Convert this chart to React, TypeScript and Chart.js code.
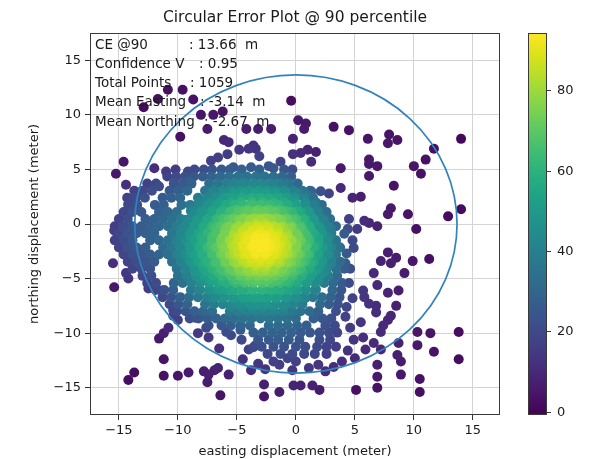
import { useEffect, useRef } from "react";
import { Chart, registerables } from "chart.js";

Chart.register(...registerables);

const FONT = "DejaVu Sans";
const titleText = "Circular Error Plot @ 90 percentile";
const xLabel = "easting displacement (meter)";
const yLabel = "northing displacement (meter)";
const xTicks = [-15, -10, -5, 0, 5, 10, 15];
const yTicks = [-15, -10, -5, 0, 5, 10, 15];
const cbTicks = [0, 20, 40, 60, 80];
const circleRadius = 13.66;
const infoLabels = ["CE @90", "Confidence V", "Total Points", "Mean Easting", "Mean Northing"];
const infoValues = [": 13.66  m", ": 0.95", ": 1059", ": -3.14  m", ": -2.67  m"];

// outer body of the cloud, rows of [northing, eastings]
const blobRows: [number, number[]][] = [
  [5.0, [-8.6, -7.8, -7.1, -6.3, -5.6, -4.6, -3.1, -1.0, -0.3]],
  [4.35, [-10.9, -10.15, -9.4, -8.65, -7.9, -7.15, -6.4, -5.65, -4.9, -4.15, -3.4, -2.65, -1.9, -1.15, -0.4]],
  [3.7, [-12.6, -11.85, -10.35, -9.6, -8.85, -7.35, -6.6, -5.85, -5.1, -4.35, -3.6, -2.85, -2.1, -1.35, -0.6, 0.15]],
  [3.05, [-13.7, -12.95, -12.2, -10.7, -9.95, -9.2, -7.7, -6.95, -6.2, -5.45, -4.7, -3.95, -3.2, -2.45, -1.7, -0.95, -0.2, 0.55, 1.2]],
  [2.4, [-14.3, -13.55, -12.8, -11.3, -10.55, -9.8, -8.3, -7.55, -6.8, -6.05, -5.3, -4.55, -3.8, -3.05, -2.3, -1.55, -0.8, -0.05, 0.7, 1.45]],
  [1.75, [-14.2, -13.45, -11.95, -11.2, -9.7, -8.95, -8.2, -7.45, -6.7, -5.95, -5.2, -4.45, -3.7, -2.95, -2.2, -1.45, -0.7, 0.05, 0.8, 1.55, 2.2]],
  [1.1, [-14.6, -13.85, -13.1, -11.6, -10.85, -10.1, -8.6, -7.85, -7.1, -6.35, -5.6, -4.85, -4.1, -3.35, -2.6, -1.85, -1.1, -0.35, 0.4, 1.15, 1.9, 2.6]],
  [0.45, [-15.0, -14.25, -12.75, -12.0, -11.25, -10.5, -9.75, -9.0, -8.25, -7.5, -6.75, -6.0, -5.25, -4.5, -3.75, -3.0, -2.25, -1.5, -0.75, 0.0, 0.75, 1.5, 2.25, 2.9]],
  [-0.2, [-15.35, -14.6, -13.85, -13.1, -12.35, -11.6, -10.85, -10.1, -9.35, -8.6, -7.85, -7.1, -6.35, -5.6, -4.85, -4.1, -3.35, -2.6, -1.85, -1.1, -0.35, 0.4, 1.15, 1.9, 2.65, 3.4]],
  [-0.85, [-15.0, -14.25, -13.5, -12.75, -12.0, -10.5, -9.75, -9.0, -8.25, -7.5, -6.75, -6.0, -5.25, -4.5, -3.75, -3.0, -2.25, -1.5, -0.75, 0.0, 0.75, 1.5, 2.25, 3.0]],
  [-1.5, [-15.35, -14.6, -13.85, -12.35, -11.6, -10.85, -10.1, -9.35, -8.6, -7.85, -7.1, -6.35, -5.6, -4.85, -4.1, -3.35, -2.6, -1.85, -1.1, -0.35, 0.4, 1.15, 1.9, 2.65, 3.4]],
  [-2.15, [-15.0, -14.25, -13.5, -12.75, -11.25, -10.5, -9.75, -9.0, -8.25, -7.5, -6.75, -6.0, -5.25, -4.5, -3.75, -3.0, -2.25, -1.5, -0.75, 0.0, 0.75, 1.5, 2.25, 3.0, 3.75]],
  [-2.8, [-14.6, -13.85, -13.1, -12.35, -11.6, -10.85, -10.1, -9.35, -8.6, -7.85, -7.1, -6.35, -5.6, -4.85, -4.1, -3.35, -2.6, -1.85, -1.1, -0.35, 0.4, 1.15, 1.9, 2.65, 3.4]],
  [-3.45, [-14.25, -13.5, -12.75, -12.0, -10.5, -9.75, -9.0, -8.25, -7.5, -6.75, -6.0, -5.25, -4.5, -3.75, -3.0, -2.25, -1.5, -0.75, 0.0, 0.75, 1.5, 2.25, 3.0, 3.75]],
  [-4.1, [-13.85, -13.1, -12.35, -10.1, -9.35, -8.6, -7.85, -7.1, -6.35, -5.6, -4.85, -4.1, -3.35, -2.6, -1.85, -1.1, -0.35, 0.4, 1.15, 1.9, 2.65, 3.4, 4.1]],
  [-4.75, [-13.0, -12.25, -10.0, -9.25, -8.5, -7.75, -7.0, -6.25, -5.5, -4.75, -4.0, -3.25, -2.5, -1.75, -1.0, -0.25, 0.5, 1.25, 2.0, 2.75, 3.5]],
  [-5.4, [-12.6, -11.85, -10.35, -9.6, -8.85, -8.1, -7.35, -6.6, -5.85, -5.1, -4.35, -3.6, -2.85, -2.1, -1.35, -0.6, 0.15, 0.9, 1.65, 2.4, 3.15, 3.9]],
  [-6.05, [-11.9, -11.15, -10.4, -8.9, -8.15, -7.4, -6.65, -5.9, -5.15, -4.4, -3.65, -2.9, -2.15, -1.4, -0.65, 0.1, 0.85, 1.6, 3.1, 3.85]],
  [-6.7, [-11.3, -10.55, -9.8, -9.05, -8.3, -7.55, -6.8, -6.05, -5.3, -4.55, -3.8, -3.05, -2.3, -1.55, -0.8, -0.05, 0.7, 1.45, 2.2, 2.95, 3.7]],
  [-7.35, [-10.7, -9.95, -9.2, -7.7, -6.95, -6.2, -5.45, -4.7, -3.95, -3.2, -2.45, -1.7, -0.95, -0.2, 0.55, 2.05, 2.8, 3.55]],
  [-8.0, [-10.1, -9.35, -8.6, -7.85, -7.1, -5.6, -4.85, -4.1, -3.35, -2.6, -1.85, -1.1, -0.35, 0.4, 1.15, 1.9, 3.4]],
  [-8.65, [-9.0, -8.25, -7.5, -6.75, -6.0, -5.25, -4.5, -3.75, -3.0, -2.25, -1.5, -0.75, 0.0, 1.5, 2.25, 3.0]],
  [-9.3, [-7.4, -6.3, -5.5, -4.7, -3.9, -2.3, -1.5, -0.7, 0.1, 0.9, 2.5, 3.3]],
  [-9.95, [-3.6, -2.8, -2.0, -1.2, -0.4, 0.4, 1.2, 2.0, 2.8, 3.5]],
  [-10.6, [-3.2, -2.3, -1.5, -0.6, 0.3, 2.0, 2.9]],
  [-11.25, [-2.9, -1.9, -1.0, 0.0, 0.8, 1.8, 2.6, 3.4]],
  [-11.9, [-2.4, -1.3, -0.3, 0.7, 1.6, 2.6]],
];

// middle part of the cloud
const midRows: [number, number[]][] = [
  [3.6, [-5.5, -4.6, -3.7, -2.8, -1.9, -1.0]],
  [2.8, [-7.1, -6.2, -5.3, -4.4, -3.5, -2.6, -1.7, -0.8, 0.1, 0.8]],
  [2.0, [-8.2, -7.3, -6.4, -5.5, -4.6, -3.7, -2.8, -1.9, -1.0, -0.1, 0.8, 1.7]],
  [1.2, [-8.9, -8.0, -7.1, -6.2, -5.3, -4.4, -3.5, -2.6, -1.7, -0.8, 0.1, 1.0, 1.9]],
  [0.4, [-9.3, -8.4, -7.5, -6.6, -5.7, -4.8, -3.9, -3.0, -2.1, -1.2, -0.3, 0.6, 1.5, 2.4]],
  [-0.4, [-9.6, -8.7, -7.8, -6.9, -6.0, -5.1, -4.2, -3.3, -2.4, -1.5, -0.6, 0.3, 1.2, 2.1, 3.0]],
  [-1.2, [-9.8, -8.9, -8.0, -7.1, -6.2, -5.3, -4.4, -3.5, -2.6, -1.7, -0.8, 0.1, 1.0, 1.9, 2.8]],
  [-2.0, [-9.9, -9.0, -8.1, -7.2, -6.3, -5.4, -4.5, -3.6, -2.7, -1.8, -0.9, 0.0, 0.9, 1.8, 2.7, 3.5]],
  [-2.8, [-9.8, -8.9, -8.0, -7.1, -6.2, -5.3, -4.4, -3.5, -2.6, -1.7, -0.8, 0.1, 1.0, 1.9, 2.8]],
  [-3.6, [-9.6, -8.7, -7.8, -6.9, -6.0, -5.1, -4.2, -3.3, -2.4, -1.5, -0.6, 0.3, 1.2, 2.1, 3.0]],
  [-4.4, [-9.3, -8.4, -7.5, -6.6, -5.7, -4.8, -3.9, -3.0, -2.1, -1.2, -0.3, 0.6, 1.5, 2.4]],
  [-5.2, [-8.9, -8.0, -7.1, -6.2, -5.3, -4.4, -3.5, -2.6, -1.7, -0.8, 0.1, 1.0, 1.9]],
  [-6.0, [-8.2, -7.3, -6.4, -5.5, -4.6, -3.7, -2.8, -1.9, -1.0, -0.1, 0.8, 1.7]],
  [-6.8, [-7.1, -6.2, -5.3, -4.4, -3.5, -2.6, -1.7, -0.8, 0.1, 0.8]],
  [-7.6, [-5.5, -4.6, -3.7, -2.8, -1.9, -1.0]],
];

// inner part of the cloud
const innerRows: [number, number[]][] = [
  [1.3, [-5.0, -4.1, -3.2, -2.3, -1.4]],
  [0.5, [-6.2, -5.3, -4.4, -3.5, -2.6, -1.7, -0.8, 0.0]],
  [-0.3, [-6.7, -5.8, -4.9, -4.0, -3.1, -2.2, -1.3, -0.4, 0.5]],
  [-1.1, [-7.0, -6.1, -5.2, -4.3, -3.4, -2.5, -1.6, -0.7, 0.2, 0.9]],
  [-1.9, [-7.1, -6.2, -5.3, -4.4, -3.5, -2.6, -1.7, -0.8, 0.1, 0.9]],
  [-2.7, [-7.0, -6.1, -5.2, -4.3, -3.4, -2.5, -1.6, -0.7, 0.2, 0.9]],
  [-3.5, [-6.7, -5.8, -4.9, -4.0, -3.1, -2.2, -1.3, -0.4, 0.5]],
  [-4.3, [-6.2, -5.3, -4.4, -3.5, -2.6, -1.7, -0.8, 0.0]],
  [-5.1, [-5.0, -4.1, -3.2, -2.3, -1.4]],
];

// core of the cloud
const coreRows: [number, number[]][] = [
  [0.05, [-3.4, -2.6]],
  [-0.6, [-4.5, -3.75, -3.0, -2.25, -1.5]],
  [-1.25, [-4.9, -4.15, -3.4, -2.65, -1.9, -1.15]],
  [-1.9, [-5.1, -4.35, -3.6, -2.85, -2.1, -1.35, -0.75]],
  [-2.55, [-4.9, -4.15, -3.4, -2.65, -1.9, -1.15]],
  [-3.2, [-4.5, -3.75, -3.0, -2.25, -1.5]],
  [-3.85, [-3.4, -2.6]],
];

// scattered single fixes [easting, northing]
const strayPoints: [number, number][] = [
  [-11.7, 11.45], [-12.9, 10.7], [-10.85, 12.3], [-9.6, 12.3], [-8.7, 11.4], [-8.05, 10.0], [-7.0, 10.0], [-6.2, 10.3],
  [-7.5, 8.7], [-9.8, 8.0], [-6.1, 7.7], [-5.7, 7.5], [-4.2, 8.7], [-3.2, 8.7], [-2.1, 8.7], [-4.8, 6.8], [-4.0, 6.9],
  [-3.4, 6.9], [-3.6, 7.2], [-3.1, 6.2], [-7.2, 5.8], [-6.6, 6.1], [-5.8, 6.4], [-5.3, 5.2], [-3.8, 5.2], [-2.3, 5.3],
  [-1.9, 5.1], [-1.3, 5.7], [-14.6, 5.7], [-15.25, 4.6], [-14.4, 3.6], [-12.0, 5.1], [-11.0, 4.8], [-11.6, 3.45],
  [-10.2, 5.0], [-9.15, 4.8], [-9.1, 3.9], [-13.1, 3.0], [-14.2, 1.8], [-13.8, 2.4],
  [-0.4, 11.3], [0.2, 9.5], [0.85, 9.2], [0.7, 8.7], [-0.25, 7.8], [-0.25, 6.4], [0.4, 6.5], [1.0, 6.8], [1.7, 6.6],
  [1.3, 5.7], [3.2, 8.9], [4.5, 8.6], [6.1, 7.8], [7.9, 8.2], [7.8, 7.4], [8.6, 7.7], [11.7, 6.9], [14.0, 7.8],
  [6.2, 5.9], [11.0, 5.9], [3.8, 5.1], [6.2, 5.5], [6.9, 5.3], [6.2, 4.4], [10.0, 5.3], [10.6, 4.6], [8.3, 3.5],
  [1.3, 3.0], [2.1, 3.0], [2.8, 2.8], [3.8, 3.3], [4.8, 2.4], [5.5, 2.5], [8.05, 1.45], [7.8, 0.9], [9.5, 0.9],
  [12.9, 0.7], [14.0, 1.35],
  [4.5, 0.45], [5.8, 0.3], [6.2, 0.1], [6.9, -0.2], [5.2, -0.45], [4.4, -0.45], [10.2, -0.45], [4.1, -0.9], [4.8, -1.5],
  [4.9, -2.2], [4.3, -2.7], [4.2, -3.6], [4.6, -4.1], [7.2, -3.4], [7.8, -2.6], [8.5, -3.1], [8.05, -3.6], [9.9, -3.4],
  [11.3, -3.2], [6.6, -4.5], [9.2, -4.5], [6.9, -5.6], [7.8, -6.3], [8.7, -6.1], [8.5, -7.5], [4.5, -5.4], [4.8, -6.8],
  [5.7, -6.1], [5.8, -6.7], [6.2, -7.3], [6.8, -7.5], [6.8, -8.1], [4.3, -7.6], [4.2, -8.5], [5.5, -9.0], [4.6, -9.5],
  [7.4, -9.3], [7.8, -8.8], [8.05, -8.4], [7.2, -9.9], [5.7, -10.4], [4.9, -10.6], [6.6, -10.9], [7.2, -11.5],
  [5.9, -11.5], [4.4, -11.6], [8.7, -10.9], [8.6, -12.0], [8.9, -12.6], [5.0, -12.3], [3.9, -12.6], [10.3, -9.9],
  [11.4, -10.0], [13.8, -9.9], [10.3, -11.1], [11.7, -11.7], [13.8, -12.4], [6.9, -12.9], [6.9, -14.0], [8.9, -13.8],
  [6.9, -15.0], [10.5, -14.2], [10.5, -15.4], [5.1, -15.2],
  [-0.2, -14.8], [0.4, -14.8], [1.4, -14.8], [2.0, -15.2], [-1.9, -12.6], [-1.4, -12.9], [-0.7, -12.3], [0.0, -12.6],
  [1.1, -13.2], [1.9, -12.9], [2.5, -13.5], [-4.5, -12.4], [-3.2, -12.8], [-2.6, -13.3], [3.2, -13.1], [-0.3, -13.4],
  [-2.7, -14.7], [-2.7, -15.8], [-1.4, -15.4], [-3.8, -13.4],
  [-11.2, -10.0], [-11.6, -10.5], [-10.8, -9.5], [-11.2, -12.4], [-14.2, -14.3], [-13.7, -13.6], [-11.2, -13.9],
  [-10.0, -13.9], [-9.1, -13.6], [-7.8, -13.5], [-7.4, -13.8], [-6.9, -13.4], [-7.5, -14.5], [-6.6, -13.2], [-5.7, -13.8],
  [-6.4, -15.7], [-8.5, -8.6], [-8.3, -10.0], [-7.6, -9.5], [-7.4, -10.4], [-6.5, -11.4], [-5.5, -10.2], [-4.7, -9.7],
  [-4.0, -11.5], [-3.6, -11.3], [-3.4, -11.1], [-10.4, -7.9], [-10.0, -8.8], [-10.4, -8.4], [-5.9, -9.9], [-4.6, -10.6],
  [-15.5, -3.6], [-15.4, -5.8], [-14.4, -4.5], [-14.2, -5.0], [-12.5, -5.9], [-11.4, -6.1], [-15.4, -0.6], [-15.25, -1.4],
];

const VIRIDIS = [
  "#440154", "#48186a", "#472d7b", "#424086", "#3b528b", "#33638d", "#2c728e", "#26828e", "#21918c",
  "#1fa088", "#28ae80", "#3fbc73", "#5ec962", "#84d44b", "#addc30", "#d8e219", "#fde725",
];

function hexRgb(h: string) {
  return [parseInt(h.slice(1, 3), 16), parseInt(h.slice(3, 5), 16), parseInt(h.slice(5, 7), 16)];
}

function viridis(t: number) {
  const c = Math.max(0, Math.min(1, t)) * (VIRIDIS.length - 1);
  const i = Math.min(VIRIDIS.length - 2, Math.floor(c));
  const f = c - i;
  const a = hexRgb(VIRIDIS[i]);
  const b = hexRgb(VIRIDIS[i + 1]);
  const m = a.map((v, k) => Math.round(v + (b[k] - v) * f));
  return `rgb(${m[0]},${m[1]},${m[2]})`;
}

const CB_MIN = -0.8;
const CB_MAX = 94.2;

function buildData() {
  const pts: [number, number][] = [];
  for (const rows of [blobRows, midRows, innerRows, coreRows]) {
    for (const [y, xs] of rows) for (const x of xs) pts.push([x, y]);
  }
  for (const p of strayPoints) pts.push(p);
  // point density (gaussian kernel), used as colour value
  const h = 1.6;
  const k = 1 / (2 * h * h);
  const z = pts.map(([x, y]) => {
    let s = 0;
    for (const [u, v] of pts) {
      const dx = x - u;
      const dy = y - v;
      s += Math.exp(-(dx * dx + dy * dy) * k);
    }
    return s;
  });
  const zMax = Math.max(...z);
  const items = pts.map((p, i) => ({ x: p[0], y: p[1], v: (z[i] / zMax) * CB_MAX }));
  items.sort((a, b) => a.v - b.v);
  return items;
}

const fmt = (v: number) => (v < 0 ? "\u2212" + Math.abs(v) : String(v));

export default function App() {
  const ref = useRef<HTMLCanvasElement | null>(null);

  useEffect(() => {
    if (!ref.current) return;
    const items = buildData();
    const colors = items.map((d) => viridis((d.v - CB_MIN) / (CB_MAX - CB_MIN)));

    const decor = {
      id: "decor",
      afterDraw(chart: any) {
        const { ctx, chartArea: a, scales } = chart;
        const sx = scales.x;
        const sy = scales.y;
        const cb = scales.cb;
        ctx.save();
        // CE circle
        const cx = sx.getPixelForValue(0);
        const cy = sy.getPixelForValue(0);
        const rx = Math.abs(sx.getPixelForValue(circleRadius) - cx);
        const ry = Math.abs(sy.getPixelForValue(circleRadius) - cy);
        ctx.beginPath();
        ctx.ellipse(cx, cy, rx, ry, 0, 0, Math.PI * 2);
        ctx.strokeStyle = "#3282bd";
        ctx.lineWidth = 1.7;
        ctx.stroke();
        // info text
        ctx.fillStyle = "#1a1a1a";
        ctx.font = `13.5px "${FONT}"`;
        ctx.textBaseline = "middle";
        ctx.textAlign = "left";
        const colonX = [189, 199, 190, 200, 204];
        infoLabels.forEach((lab, i) => {
          const y = a.top + 12 + i * 19.25;
          ctx.fillText(lab, a.left + 5, y);
          ctx.fillText(infoValues[i], colonX[i], y);
        });
        // frame
        ctx.strokeStyle = "#3a3a3a";
        ctx.lineWidth = 1;
        ctx.strokeRect(Math.round(a.left) + 0.5, Math.round(a.top) + 0.5, Math.round(a.width) - 1, Math.round(a.height) - 1);
        // colorbar
        const x0 = a.right + 28;
        const w = 19;
        const top = cb.getPixelForValue(CB_MAX);
        const bot = cb.getPixelForValue(CB_MIN);
        const g = ctx.createLinearGradient(0, bot, 0, top);
        VIRIDIS.forEach((c, i) => g.addColorStop(i / (VIRIDIS.length - 1), c));
        ctx.fillStyle = g;
        ctx.fillRect(x0, top, w, bot - top);
        ctx.strokeStyle = "#3a3a3a";
        ctx.strokeRect(x0 + 0.5, Math.round(top) + 0.5, w - 1, Math.round(bot - top) - 1);
        ctx.beginPath();
        ctx.fillStyle = "#1a1a1a";
        ctx.font = `13px "${FONT}"`;
        ctx.textBaseline = "middle";
        ctx.textAlign = "left";
        cbTicks.forEach((t) => {
          const py = Math.round(cb.getPixelForValue(t)) + 0.5;
          ctx.moveTo(x0 + w, py);
          ctx.lineTo(x0 + w + 4, py);
          ctx.fillText(String(t), x0 + w + 10, py);
        });
        ctx.stroke();
        ctx.restore();
      },
    };

    const tickFont = { family: FONT, size: 13 };
    const chart = new Chart(ref.current, {
      type: "scatter",
      data: {
        datasets: [
          {
            data: items.map((d) => ({ x: d.x, y: d.y })),
            pointRadius: 5,
            pointHoverRadius: 5,
            pointBorderWidth: 0,
            pointBackgroundColor: colors,
            pointBorderColor: colors,
          },
        ],
      },
      options: {
        responsive: false,
        animation: false,
        events: [],
        layout: { padding: 0 },
        plugins: {
          legend: { display: false },
          tooltip: { enabled: false },
          title: {
            display: true,
            text: titleText,
            color: "#1a1a1a",
            font: { family: FONT, size: 15.5, weight: "normal", lineHeight: 1.2 },
            padding: { top: 8.4, bottom: 6 },
          },
        },
        scales: {
          x: {
            type: "linear",
            position: "bottom",
            min: -17.45,
            max: 17.3,
            afterBuildTicks: (s: any) => {
              s.ticks = xTicks.map((value) => ({ value }));
            },
            afterFit: (s: any) => {
              s.height = 44;
            },
            ticks: { font: tickFont, color: "#1a1a1a", padding: 3, maxRotation: 0, callback: (v: any) => fmt(Number(v)) },
            grid: { color: "#d4d4d4", tickColor: "#333", tickLength: 5, lineWidth: 1 },
            border: { display: false },
            title: { display: true, text: xLabel, color: "#1a1a1a", font: tickFont, padding: { top: 0, bottom: 0 } },
          },
          y: {
            type: "linear",
            position: "left",
            min: -17.5,
            max: 17.5,
            afterBuildTicks: (s: any) => {
              s.ticks = yTicks.map((value) => ({ value }));
            },
            afterFit: (s: any) => {
              s.width = 90;
            },
            ticks: { font: tickFont, color: "#1a1a1a", padding: 4, callback: (v: any) => fmt(Number(v)) },
            grid: { color: "#d4d4d4", tickColor: "#333", tickLength: 5, lineWidth: 1 },
            border: { display: false },
            title: { display: true, text: yLabel, color: "#1a1a1a", font: tickFont, padding: { top: 27, bottom: 0 } },
          },
          cb: {
            type: "linear",
            position: "right",
            min: CB_MIN,
            max: CB_MAX,
            afterFit: (s: any) => {
              s.width = 90;
            },
            ticks: { display: false },
            grid: { display: false, drawTicks: false },
            border: { display: false },
          },
        },
      } as any,
      plugins: [decor],
    });
    return () => chart.destroy();
  }, []);

  return (
    <div style={{ position: "fixed", left: 0, top: 0, width: 590, height: 459, background: "#fff" }}>
      <canvas ref={ref} width={590} height={459} style={{ display: "block" }} />
    </div>
  );
}
